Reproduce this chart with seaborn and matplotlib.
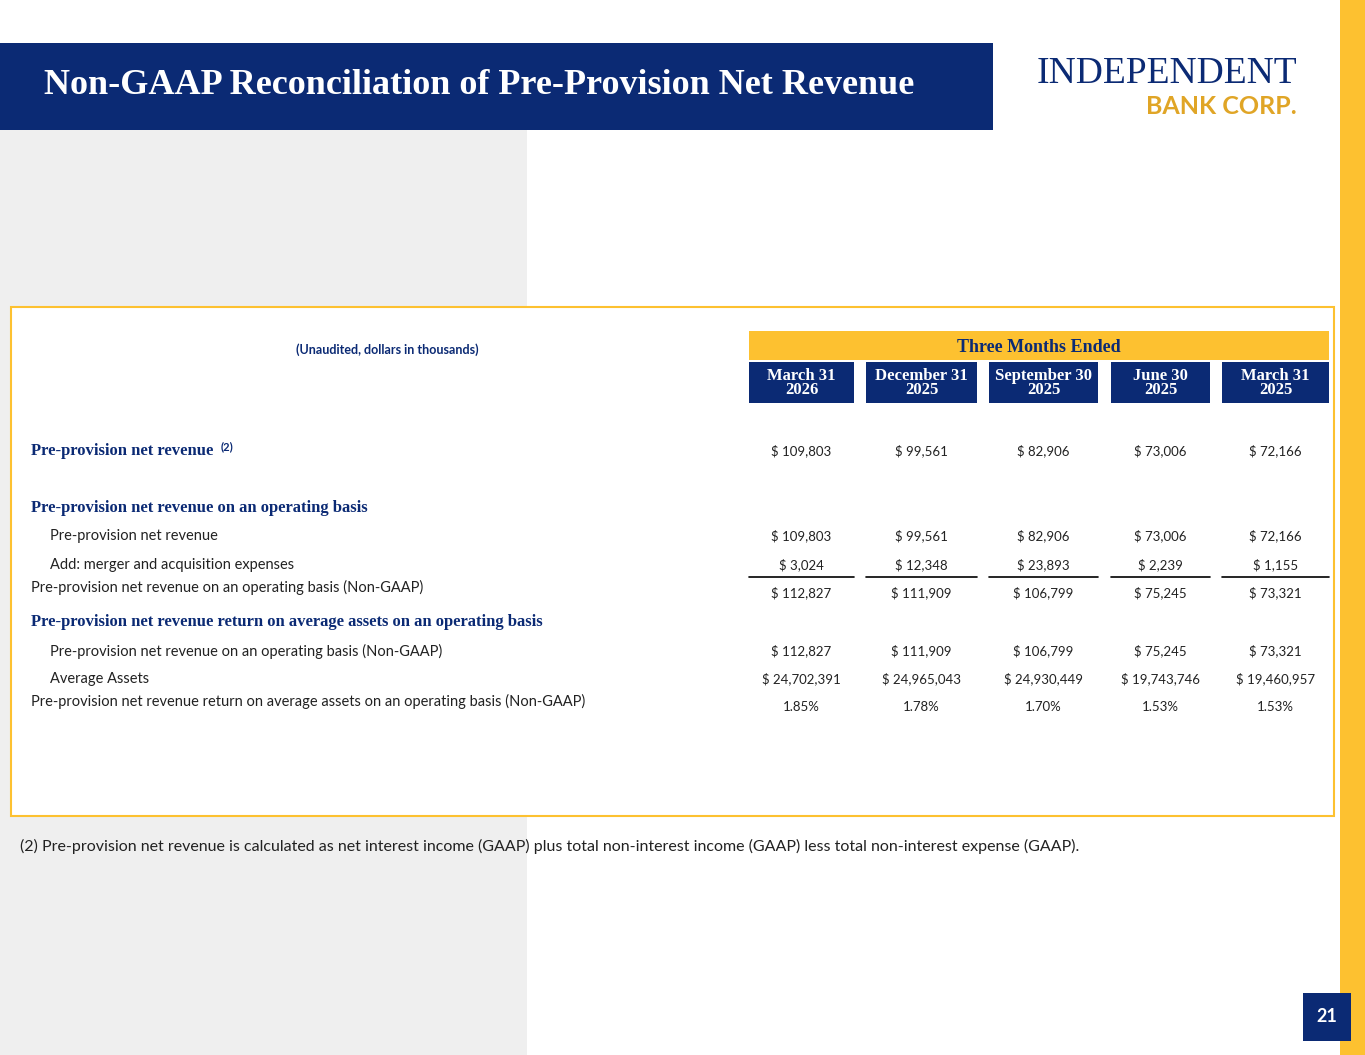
import matplotlib.pyplot as plt
import matplotlib.patches as mpatches
import seaborn as sns

sns.set_theme(style="white")
plt.rcParams['font.family'] = ['Lato', 'DejaVu Sans']

NAVY = '#0b2a74'
GOLD = '#fdc130'

periods = ['March 31\n2026', 'December 31\n2025', 'September 30\n2025', 'June 30\n2025', 'March 31\n2025']
ppnr = ['$ 109,803', '$ 99,561', '$ 82,906', '$ 73,006', '$ 72,166']
merger = ['$ 3,024', '$ 12,348', '$ 23,893', '$ 2,239', '$ 1,155']
ppnr_oper = ['$ 112,827', '$ 111,909', '$ 106,799', '$ 75,245', '$ 73,321']
avg_assets = ['$ 24,702,391', '$ 24,965,043', '$ 24,930,449', '$ 19,743,746', '$ 19,460,957']
ppnr_roaa = ['1.85%', '1.78%', '1.70%', '1.53%', '1.53%']

# (label, values, indent, bold heading, y)
rows = [
    ('Pre-provision net revenue', ppnr, False, True, 451),
    ('Pre-provision net revenue on an operating basis', None, False, True, 508),
    ('Pre-provision net revenue', ppnr, True, False, 536),
    ('Add: merger and acquisition expenses', merger, True, False, 565),
    ('Pre-provision net revenue on an operating basis (Non-GAAP)', ppnr_oper, False, False, 593),
    ('Pre-provision net revenue return on average assets on an operating basis', None, False, True, 622),
    ('Pre-provision net revenue on an operating basis (Non-GAAP)', ppnr_oper, True, False, 651),
    ('Average Assets', avg_assets, True, False, 679),
    ('Pre-provision net revenue return on average assets on an operating basis (Non-GAAP)', ppnr_roaa, False, False, 707),
]
col_spans = [(749, 854), (866, 977), (989, 1098), (1111, 1210), (1222, 1329)]

fig = plt.figure(figsize=(13.65, 10.55), dpi=100)
ax = fig.add_axes([0, 0, 1, 1])
ax.set_xlim(0, 1365)
ax.set_ylim(1055, 0)
ax.axis('off')

def rect(x0, y0, x1, y1, **kw):
    ax.add_patch(mpatches.Rectangle((x0, y0), x1 - x0, y1 - y0, **kw))

rect(0, 130, 527, 1055, color='#efefef', lw=0)
rect(1340, 0, 1365, 1055, color=GOLD, lw=0)
rect(0, 43, 993, 130, color=NAVY, lw=0)
ax.text(44, 86, 'Non-GAAP Reconciliation of Pre-Provision Net Revenue', color='white',
        fontsize=26, fontweight='bold', family='Liberation Serif', va='center')
ax.text(1297, 74, 'INDEPENDENT', color=NAVY, fontsize=27, family='Liberation Serif',
        ha='right', va='center')
ax.text(1297, 106, 'BANK CORP.', color='#e0a526', fontsize=18, fontweight='bold',
        ha='right', va='center')

rect(11, 307, 1334, 816, facecolor='white', edgecolor=GOLD, lw=1.5)
ax.text(387, 350, '(Unaudited, dollars in thousands)', color=NAVY, fontsize=9,
        fontweight='bold', ha='center', va='center')
rect(749, 331, 1329, 360, color=GOLD, lw=0)
ax.text(1039, 348, 'Three Months Ended', color=NAVY, fontsize=13, fontweight='bold',
        family='Liberation Serif', ha='center', va='center')

for (x0, x1), p in zip(col_spans, periods):
    rect(x0, 362, x1, 403, color=NAVY, lw=0)
    ax.text((x0 + x1) / 2, 383, p, color='white', fontsize=12, fontweight='bold',
            family='Liberation Serif', ha='center', va='center', linespacing=0.9)

for label, vals, indent, heading, y in rows:
    x = 50 if indent else 31
    if heading:
        t = ax.text(x, y, label, color=NAVY, fontsize=12, fontweight='bold',
                    family='Liberation Serif', va='center')
        if y == 451:
            ax.text(221, y - 4, '(2)', color=NAVY, fontsize=8, fontweight='bold', va='center')
    else:
        dy = 0 if indent else -6
        ax.text(x, y + dy, label, color='#222222', fontsize=10.5, va='center')
    if vals:
        for (x0, x1), v in zip(col_spans, vals):
            ax.text((x0 + x1) / 2, y, v, color='#222222', fontsize=9.5, ha='center', va='center')

for x0, x1 in col_spans:
    ax.plot([x0, x1], [577, 577], color='black', lw=1.2)

ax.text(20, 846, '(2) Pre-provision net revenue is calculated as net interest income (GAAP) plus total '
        'non-interest income (GAAP) less total non-interest expense (GAAP).',
        color='#222222', fontsize=11.5, va='center')

rect(1303, 993, 1351, 1041, color=NAVY, lw=0)
ax.text(1327, 1017, '21', color='white', fontsize=13, fontweight='bold', ha='center', va='center')

fig.savefig('out.png', dpi=100)
